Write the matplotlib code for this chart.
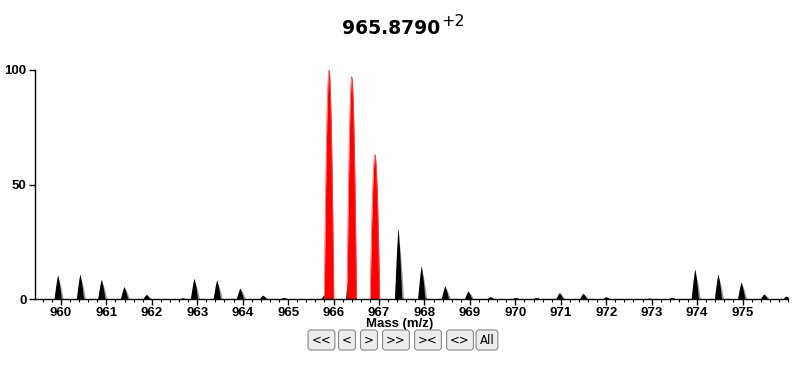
import numpy as np
import matplotlib
matplotlib.use("Agg")
import matplotlib.pyplot as plt
from matplotlib.ticker import MultipleLocator

# ---- data ----
title_mz = "965.8790"
title_charge = "+2"

red_mz = [965.90, 966.40, 966.91]
red_int = [100.0, 97.0, 63.0]

black_mz = [959.93, 960.42, 960.89, 961.39, 961.88, 962.68, 962.93, 963.43,
            963.94, 964.44, 964.90, 965.80, 966.34, 967.42, 967.93, 968.45,
            968.96, 969.45, 970.00, 970.46, 970.97, 971.49, 971.99, 972.95,
            973.44, 973.95, 974.46, 974.97, 975.47, 975.96]
black_int = [10.5, 10.8, 8.6, 5.4, 2.0, 0.5, 9.0, 8.3,
             4.7, 1.7, 0.7, 2.0, 11.0, 30.9, 14.4, 5.7,
             3.5, 1.0, 0.7, 0.7, 2.8, 2.5, 1.0, 0.4,
             0.8, 13.0, 10.9, 7.4, 2.2, 1.3]

x_ticks = list(range(960, 976))
y_ticks = [0, 50, 100]
x_label = "Mass (m/z)"
buttons = ["<<", "<", ">", ">>", "><", "<>", "All"]

# ---- figure ----
W, H = 796, 366
fig = plt.figure(figsize=(W / 100, H / 100), dpi=100)
ax = fig.add_axes([35 / W, 1 - 299 / H, (788 - 35) / W, (299 - 70) / H])
xmin, xmax = 959.43, 976.0
ax.set_xlim(xmin, xmax)
ax.set_ylim(0, 100)


def profile(c, h, half, p):
    x = np.linspace(c - half, c + half, 81)
    y = h * np.clip(1 - (np.abs(x - c) / half) ** p, 0, None)
    return x, y


for c, h in zip(black_mz, black_int):
    xg, yg = profile(c + 0.02, h * 0.8, 0.1, 1.4)
    ax.fill_between(xg, 0, yg, color="#9a9a9a", lw=0, clip_on=True)
    xb, yb = profile(c, h, 0.08, 1.3)
    ax.fill_between(xb, 0, yb, color="black", lw=0, clip_on=True)

for c, h in zip(red_mz, red_int):
    xr, yr = profile(c, h, 0.105, 1.9)
    ax.fill_between(xr, 0, yr, color="#ff0000", lw=0, clip_on=True)
    ax.plot(xr, yr, color="#ff5050", lw=0.5)

for sp in ["top", "right"]:
    ax.spines[sp].set_visible(False)
ax.spines["left"].set_linewidth(1.0)
ax.spines["bottom"].set_linewidth(1.0)

ax.set_xticks(x_ticks)
ax.set_xticklabels([str(t) for t in x_ticks])
ax.xaxis.set_minor_locator(MultipleLocator(0.2))
ax.set_yticks(y_ticks)
ax.set_yticklabels([str(t) for t in y_ticks])
ax.tick_params(axis="x", which="major", length=4, width=1, pad=2,
               labelsize=9.5)
ax.tick_params(axis="x", which="minor", length=2.5, width=0.8)
ax.tick_params(axis="y", which="major", length=4, width=1, pad=2,
               labelsize=9.5)
for lab in ax.get_xticklabels() + ax.get_yticklabels():
    lab.set_fontfamily("Liberation Sans")
    lab.set_fontweight("bold")

fig.text(400 / W, 1 - 324 / H, x_label, ha="center", va="center",
         fontsize=9.5, fontweight="bold", family="Liberation Sans")

# title with superscript charge
fig.text(440 / W, 1 - 34.3 / H, title_mz, ha="right", va="baseline",
         fontsize=13.5, fontweight="bold", family="DejaVu Sans")
fig.text(441 / W, 1 - 25.5 / H, title_charge, ha="left", va="baseline",
         fontsize=11.5, family="DejaVu Sans")

# navigation buttons
btn_centers = [321.5, 347, 369, 396, 428, 460, 487]
for label, cx in zip(buttons, btn_centers):
    fig.text(cx / W, 1 - 340 / H, label, ha="center", va="center",
             fontsize=8.5, family="DejaVu Sans", color="black",
             bbox=dict(boxstyle="round,pad=0.3,rounding_size=0.25",
                       fc="#ececec", ec="#8a8a8a", lw=0.8))

fig.savefig("out.png", dpi=100)
